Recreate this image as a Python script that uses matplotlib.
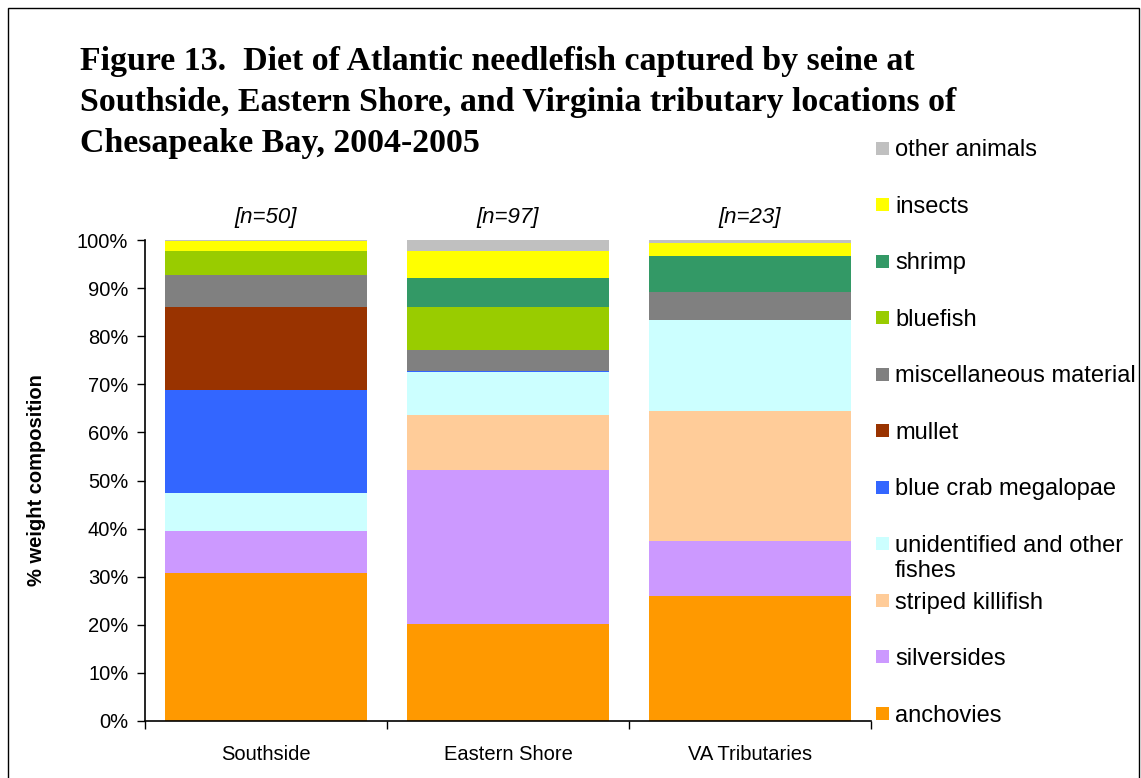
import matplotlib
matplotlib.use("Agg")
import matplotlib.pyplot as plt
from matplotlib.patches import Rectangle
import numpy as np

plt.rcParams["font.family"] = ["Liberation Sans", "DejaVu Sans"]

sites = ["Southside", "Eastern Shore", "VA Tributaries"]
n_labels = ["[n=50]", "[n=97]", "[n=23]"]

# stacking order, bottom to top
prey = [
    "anchovies",
    "silversides",
    "striped killifish",
    "unidentified and other\nfishes",
    "blue crab megalopae",
    "mullet",
    "miscellaneous material",
    "bluefish",
    "shrimp",
    "insects",
    "other animals",
]
colors = [
    "#FF9900", "#CC99FF", "#FFCC99", "#CCFFFF", "#3366FF", "#993300",
    "#808080", "#99CC00", "#339966", "#FFFF00", "#C0C0C0",
]

# % weight composition per prey item: Southside, Eastern Shore, VA Tributaries
anchovies = [30.7, 20.1, 25.9]
silversides = [8.9, 32.1, 11.6]
striped_killifish = [0.0, 11.5, 27.0]
unidentified_fishes = [7.7, 8.8, 18.9]
blue_crab = [21.6, 0.2, 0.0]
mullet = [17.2, 0.0, 0.0]
misc_material = [6.6, 4.4, 5.8]
bluefish = [5.0, 8.9, 0.0]
shrimp = [0.0, 6.2, 7.5]
insects = [2.1, 5.6, 2.7]
other_animals = [0.2, 2.2, 0.6]

values = np.array([
    anchovies, silversides, striped_killifish, unidentified_fishes, blue_crab,
    mullet, misc_material, bluefish, shrimp, insects, other_animals,
])

W, H = 1141, 778
fig = plt.figure(figsize=(W / 100, H / 100), dpi=100)
ax = fig.add_axes([145 / W, 1 - 721 / H, (871 - 145) / W, (721 - 240) / H])

x = np.arange(len(sites))
bottom = np.zeros(len(sites))
for vals, c in zip(values, colors):
    ax.bar(x, vals, width=0.835, bottom=bottom, color=c, linewidth=0)
    bottom += vals

ax.set_xlim(-0.5, len(sites) - 0.5)
ax.set_ylim(0, 100)
ax.set_yticks(np.arange(0, 101, 10))
ax.set_yticklabels([f"{v}%" for v in range(0, 101, 10)], fontsize=14.5)
ax.set_xticks(x)
ax.set_xticklabels(sites, fontsize=14.5)
ax.set_xticks(np.arange(-0.5, len(sites)), minor=True)
ax.tick_params(axis="x", which="major", length=0, pad=17)
ax.tick_params(axis="x", which="minor", length=6, width=1, direction="out")
ax.tick_params(axis="y", length=6, width=1, direction="out", pad=6)
for s in ["top", "right"]:
    ax.spines[s].set_visible(False)
for s in ["left", "bottom"]:
    ax.spines[s].set_linewidth(1.2)

for xi, lab in zip(x, n_labels):
    ax.text(xi, 104.6, lab, ha="center", va="center", fontsize=16,
            style="italic", clip_on=False)

fig.text(37 / W, 1 - 480 / H, "% weight composition", rotation=90,
         ha="center", va="center", fontsize=14.5, fontweight="bold")

title_lines = [
    "Figure 13.  Diet of Atlantic needlefish captured by seine at",
    "Southside, Eastern Shore, and Virginia tributary locations of",
    "Chesapeake Bay, 2004-2005",
]
for i, line in enumerate(title_lines):
    fig.text(80 / W, 1 - (70 + 41 * i) / H, line, ha="left", va="baseline",
             fontsize=24.4, fontweight="bold", family="Liberation Serif")

# legend, top entry first
leg_y0, leg_dy = 148, 56.5
for k, (name, c) in enumerate(zip(prey[::-1], colors[::-1])):
    yc = leg_y0 + leg_dy * k
    fig.add_artist(Rectangle((876 / W, 1 - (yc + 6.5) / H), 13 / W, 13 / H,
                             transform=fig.transFigure, color=c, lw=0))
    for j, part in enumerate(name.split("\n")):
        fig.text(895 / W, 1 - (yc + 25 * j) / H, part, ha="left",
                 va="center_baseline", fontsize=17)

# frame round the chart, bottom edge falls outside the image
fig.add_artist(Rectangle((8 / W, -10 / H), (1139 - 8) / W, (770 + 10) / H,
                         transform=fig.transFigure, fill=False, ec="black", lw=1))

fig.savefig("out.png", dpi=100)
